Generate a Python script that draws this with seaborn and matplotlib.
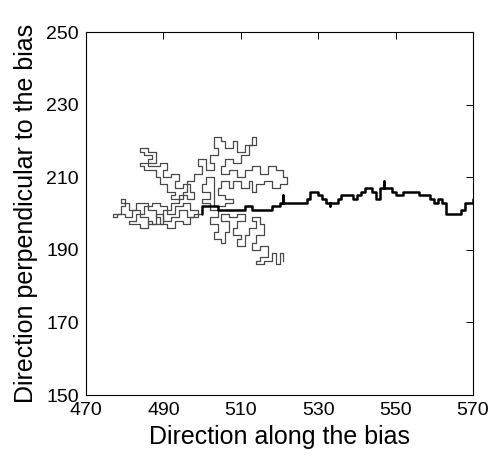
import matplotlib
matplotlib.use("Agg")
import matplotlib.pyplot as plt
import seaborn as sns

# Unbiased lattice walk (corner vertices of the path)
gray_x = [
    500, 498, 498, 496, 496, 494, 494, 492, 492, 490,
    490, 488, 488, 486, 486, 484, 484, 482, 482, 480,
    480, 478, 478, 477, 477, 479, 479, 480, 480, 479,
    479, 481, 481, 483, 483, 486, 486, 488, 488, 489,
    489, 491, 491, 493, 493, 495, 495, 497, 497, 499,
    499, 497, 497, 495, 495, 493, 493, 491, 491, 489,
    489, 487, 487, 485, 485, 483, 483, 481, 481, 484,
    484, 486, 486, 487, 487, 490, 490, 492, 492, 494,
    494, 496, 496, 498, 498, 497, 497, 495, 495, 493,
    493, 494, 494, 492, 492, 490, 490, 491, 491, 489,
    489, 486, 486, 487, 487, 485, 485, 484, 484, 486,
    486, 488, 488, 484, 484, 485, 485, 488, 488, 489,
    489, 491, 491, 493, 493, 492, 492, 495, 495, 496,
    496, 498, 498, 500, 500, 499, 499, 501, 501, 503,
    503, 502, 502, 504, 504, 503, 503, 505, 505, 506,
    506, 508, 508, 509, 509, 511, 511, 513, 513, 514,
    514, 512, 512, 510, 510, 508, 508, 506, 506, 505,
    505, 507, 507, 509, 509, 511, 511, 513, 513, 515,
    515, 517, 517, 519, 519, 521, 521, 522, 522, 520,
    520, 518, 518, 516, 516, 514, 514, 513, 513, 512,
    512, 510, 510, 508, 508, 507, 507, 505, 505, 504,
    504, 506, 506, 508, 508, 506, 506, 503, 503, 501,
    501, 500, 500, 502, 502, 500, 500, 502, 502, 504,
    504, 502, 502, 504, 504, 503, 503, 505, 505, 506,
    506, 507, 507, 505, 505, 507, 507, 509, 509, 511,
    511, 509, 509, 508, 508, 510, 510, 509, 509, 511,
    511, 512, 512, 514, 514, 513, 513, 515, 515, 516,
    516, 514, 514, 513, 513, 515, 515, 517, 517, 515,
    515, 514, 514, 516, 516, 518, 518, 519, 519, 520,
    520, 521, 521,
]
gray_y = [
    200, 200, 199, 199, 201, 201, 199, 199, 198, 198,
    200, 200, 197, 197, 199, 199, 201, 201, 199, 199,
    200, 200, 199, 199, 200, 200, 202, 202, 204, 204,
    203, 203, 201, 201, 203, 203, 201, 201, 199, 199,
    197, 197, 196, 196, 198, 198, 197, 197, 199, 199,
    201, 201, 203, 203, 202, 202, 200, 200, 202, 202,
    203, 203, 202, 202, 200, 200, 198, 198, 197, 197,
    196, 196, 198, 198, 197, 197, 201, 201, 203, 203,
    205, 205, 204, 204, 206, 206, 208, 208, 207, 207,
    209, 209, 211, 211, 210, 210, 212, 212, 214, 214,
    213, 213, 215, 215, 216, 216, 217, 217, 218, 218,
    217, 217, 214, 214, 213, 213, 212, 212, 210, 210,
    208, 208, 206, 206, 205, 205, 204, 204, 206, 206,
    209, 209, 211, 211, 213, 213, 215, 215, 212, 212,
    214, 214, 216, 216, 218, 218, 221, 221, 220, 220,
    218, 218, 220, 220, 217, 217, 219, 219, 221, 221,
    219, 219, 216, 216, 214, 214, 215, 215, 213, 213,
    211, 211, 212, 212, 210, 210, 212, 212, 213, 213,
    211, 211, 213, 213, 212, 212, 210, 210, 208, 208,
    207, 207, 209, 209, 208, 208, 206, 206, 209, 209,
    207, 207, 209, 209, 207, 207, 209, 209, 207, 207,
    205, 205, 204, 204, 203, 203, 202, 202, 210, 210,
    208, 208, 206, 206, 204, 204, 203, 203, 201, 201,
    199, 199, 197, 197, 195, 195, 193, 193, 192, 192,
    195, 195, 198, 198, 200, 200, 199, 199, 200, 200,
    198, 198, 196, 196, 194, 194, 193, 193, 191, 191,
    194, 194, 196, 196, 198, 198, 199, 199, 197, 197,
    194, 194, 192, 192, 190, 190, 191, 191, 188, 188,
    187, 187, 186, 186, 187, 187, 189, 189, 186, 186,
    189, 189, 187,
]

# Walk with a drift along the bias direction
bias_x = [
    500, 500, 504, 504, 511, 511, 513, 513, 518, 518,
    520, 520, 521, 521, 521, 527, 527, 528, 528, 530,
    530, 531, 531, 532, 532, 533, 533, 533, 535, 535,
    536, 536, 539, 539, 540, 540, 541, 541, 542, 542,
    544, 544, 545, 545, 546, 546, 547, 547, 547, 549,
    549, 550, 550, 552, 552, 556, 556, 559, 559, 560,
    560, 561, 561, 562, 562, 563, 563, 567, 567, 568,
    568, 570, 570,
]
bias_y = [
    200, 202, 202, 201, 201, 202, 202, 201, 201, 202,
    202, 203, 203, 205, 203, 203, 204, 204, 206, 206,
    205, 205, 204, 204, 203, 203, 202, 203, 203, 204,
    204, 205, 205, 204, 204, 205, 205, 206, 206, 207,
    207, 206, 206, 204, 204, 207, 207, 209, 207, 207,
    206, 206, 205, 205, 206, 206, 205, 205, 204, 204,
    203, 203, 204, 204, 203, 203, 200, 200, 201, 201,
    203, 203, 204,
]

x_ticks = [470, 490, 510, 530, 550, 570]
y_ticks = [150, 170, 190, 210, 230, 250]

sns.set_theme(style="white")
plt.rcParams["font.family"] = ["Liberation Sans", "DejaVu Sans"]

fig = plt.figure(figsize=(4.92, 4.62), dpi=100)
ax = fig.add_axes([0.1748, 0.145, 0.7866, 0.7857])

sns.lineplot(x=gray_x, y=gray_y, sort=False, estimator=None,
             color="#484848", lw=0.9, ax=ax)
sns.lineplot(x=bias_x, y=bias_y, sort=False, estimator=None,
             color="black", lw=1.8, ax=ax)

ax.set_xlim(470, 570)
ax.set_ylim(150, 250)
ax.set_xticks(x_ticks)
ax.set_yticks(y_ticks)
ax.tick_params(direction="in", length=5, width=0.7, top=True, right=True,
               labelsize=14, colors="black", pad=5)
for sp in ax.spines.values():
    sp.set_color("black")
    sp.set_linewidth(0.8)

ax.set_xlabel("Direction along the bias", fontsize=18, color="black", labelpad=4)
ax.set_ylabel("Direction perpendicular to the bias", fontsize=18, color="black", labelpad=6)

fig.savefig("out.png", dpi=100)
